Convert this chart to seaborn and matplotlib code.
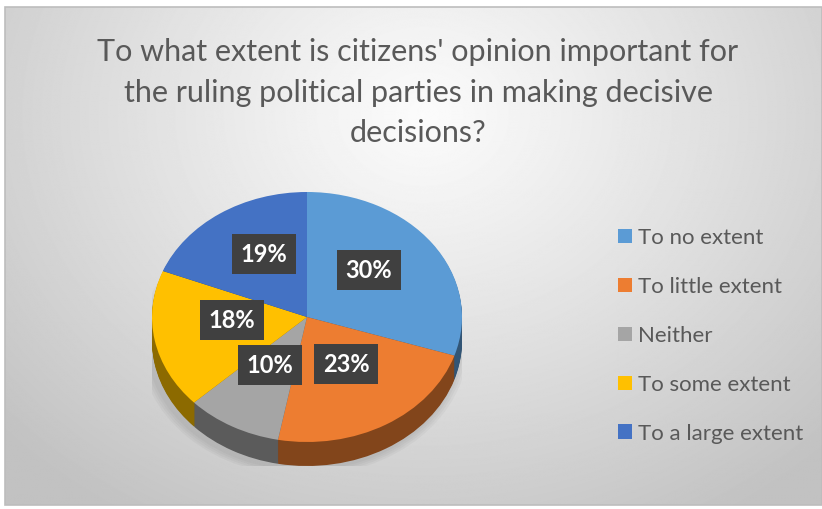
import numpy as np
import matplotlib
matplotlib.use("Agg")
import matplotlib.pyplot as plt
import seaborn as sns
from matplotlib.patches import Ellipse, Rectangle

# Survey responses
categories = ["To no extent", "To little extent", "Neither", "To some extent", "To a large extent"]
shares = [30, 23, 10, 18, 19]
title_lines = [
    "To what extent is citizens' opinion important for",
    "the ruling political parties in making decisive",
    "decisions?",
]

sns.set_style("white")
plt.rcParams["font.family"] = ["Lato", "DejaVu Sans"]

top_colors = sns.color_palette(["#5B9BD5", "#ED7D31", "#A5A5A5", "#FFC000", "#4472C4"])
side_colors = [tuple(c * 0.55 for c in col) for col in top_colors]

W, H = 822, 509
fig = plt.figure(figsize=(W / 100, H / 100), dpi=100)

# Page / chart-area background with a soft radial gradient
bg = fig.add_axes([0, 0, 1, 1])
bg.set_xlim(0, W)
bg.set_ylim(H, 0)
bg.axis("off")
yy, xx = np.mgrid[0:H, 0:W]
r = np.sqrt(((xx - 420) / 560.0) ** 2 + ((yy - 110) / 470.0) ** 2)
shade = np.clip(0.985 - 0.22 * r ** 1.1, 0.76, 1.0)
bg.imshow(shade, cmap="gray", vmin=0, vmax=1, extent=(5, W, 505, 7),
          aspect="auto", zorder=0, interpolation="bilinear")
bg.add_patch(Rectangle((5, 7), W - 5, 498, fill=False, edgecolor="#bdbdbd",
                       linewidth=1.2, zorder=1))

for i, line in enumerate(title_lines):
    bg.text(418, 52 + i * 40.5, line, ha="center", va="center",
            fontsize=22, color="#595959", zorder=3)

# Pie geometry (pixels): top ellipse centre, half-axes and extrusion depth
cx, cy, a, b, depth = 307, 317, 155, 125, 24
pie_ax = fig.add_axes([(cx - a) / W, (H - (cy + b + depth)) / H, 2 * a / W, (2 * b + depth) / H])
pie_ax.set_zorder(2)
d = depth * 2.0 / (2 * b)

# soft shadow under the pie
for k in range(4):
    grow = 0.06 - k * 0.015
    pie_ax.add_patch(Ellipse((-0.02, -d - 0.02), 2 + 2 * grow, 2 + 2 * grow,
                             facecolor="#555555", edgecolor="none", alpha=0.05))

# extruded side, built from stacked pies
n_layers = depth
for k in range(n_layers, 0, -1):
    pie_ax.pie(shares, colors=side_colors, startangle=90, counterclock=False,
               center=(0, -d * k / n_layers), radius=1,
               wedgeprops=dict(linewidth=0))

wedges, _, autotexts = pie_ax.pie(
    shares, colors=top_colors, startangle=90, counterclock=False,
    radius=1, autopct=lambda p: f"{p:.0f}%", pctdistance=0.52,
    wedgeprops=dict(linewidth=0),
    textprops=dict(color="white", fontsize=17, fontweight="bold"))
for t in autotexts:
    # the tilted top face pulls the labels slightly towards the back
    x, y = t.get_position()
    t.set_position((x * 0.95, y + 0.07))
    t.set_bbox(dict(boxstyle="square,pad=0.36", facecolor="#404040", edgecolor="none"))

pie_ax.set_aspect("auto")
pie_ax.set_xlim(-1, 1)
pie_ax.set_ylim(-1 - d, 1)
pie_ax.axis("off")

leg = fig.legend(wedges, categories, loc="upper left",
                 bbox_to_anchor=(618 / W, 1 - 228 / H), frameon=False,
                 fontsize=16, labelcolor="#595959", handlelength=0.63,
                 handleheight=0.63, handletextpad=0.25, labelspacing=1.3,
                 borderpad=0, borderaxespad=0)

fig.savefig("out.png", dpi=100)
